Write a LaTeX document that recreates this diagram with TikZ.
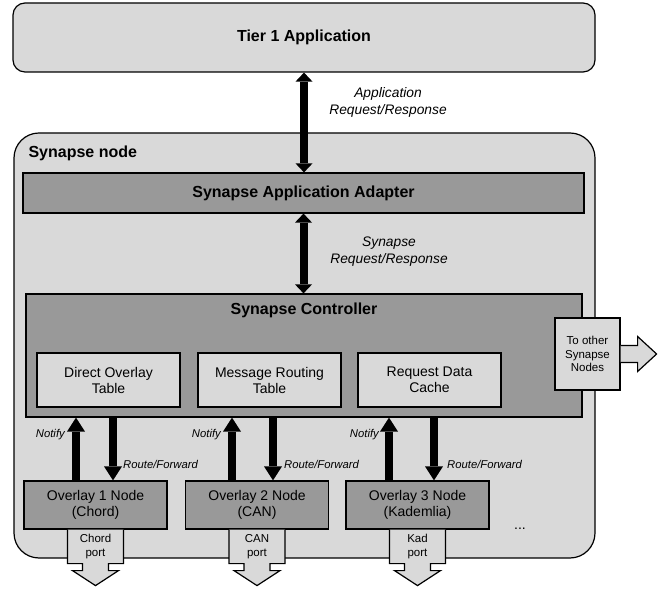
\documentclass[tikz,border=0pt]{standalone}
\usepackage{fontspec}
\setmainfont{Liberation Sans}
\usetikzlibrary{arrows.meta}
\definecolor{lightbox}{HTML}{D9D9D9}
\definecolor{darkbox}{HTML}{999999}

\begin{document}
\begin{tikzpicture}[x=1pt,y=1pt,
    panel/.style={draw, line width=1.2pt, fill=lightbox, align=center, inner sep=1pt},
    block/.style={draw, line width=1.2pt, fill=darkbox, align=center, inner sep=1pt},
    title/.style={font=\fontsize{16}{19}\selectfont\bfseries},
    boxtext/.style={font=\fontsize{14}{16}\selectfont, align=center},
    small/.style={font=\fontsize{11.5}{13.5}\selectfont, align=center, inner sep=1pt},
    note/.style={font=\fontsize{13.8}{17}\selectfont\itshape, align=center},
    tinynote/.style={font=\fontsize{11.3}{13}\selectfont\itshape, inner sep=1pt},
    portline/.style={line width=1.2pt, fill=lightbox},
    updown/.style={line width=8pt, {Triangle[width=17pt,length=9pt,line width=0pt]}-{Triangle[width=17pt,length=9pt,line width=0pt]}},
    flow/.style={line width=8pt, -{Triangle[width=18pt,length=14pt,line width=0pt]}}
]
    \useasboundingbox (0,0) rectangle (668,588);

    % Draw the outer Synapse node
    \node[panel, rounded corners=25pt, minimum width=581pt, minimum height=425pt] (synapse) at (304.5,242.5) {};
    \node[title, anchor=west] (synlabel) at (25,435) {Synapse node};

    % Draw the application on top
    \node[panel, title, rounded corners=12pt, minimum width=582pt, minimum height=69pt] (tier) at (304,550.5) {Tier 1 Application};

    % Adapter and controller
    \node[block, title, minimum width=561pt, minimum height=40pt] (adapter) at (303.5,395) {Synapse Application Adapter};
    \node[block, minimum width=556pt, minimum height=123pt] (ctrl) at (304,232.5) {};
    \node[title] (ctrltitle) at (304,278) {Synapse Controller};

    % Tables inside the controller
    \node[panel, boxtext, minimum width=143pt, minimum height=54pt] (dot) at (108.5,208) {Direct Overlay\\Table};
    \node[panel, boxtext, minimum width=143pt, minimum height=54pt] (mrt) at (269.5,208) {Message Routing\\Table};
    \node[panel, boxtext, minimum width=143pt, minimum height=54pt] (cache) at (429.5,208) {Request Data\\Cache};

    % Way out to the other nodes
    \node[panel, small, minimum width=65pt, minimum height=72pt] (other) at (587.5,234) {To other\\Synapse\\Nodes};
    \draw[portline] ([yshift=8.5pt]other.east) -- ++(17,0) -- ++(0,9) -- ++(19,-17.5) -- ++(-19,-17.5) -- ++(0,9) -- ++(-17,0);

    % Overlay nodes
    \node[block, boxtext, minimum width=143pt, minimum height=48pt] (ov1) at (95.5,83) {Overlay 1 Node\\(Chord)};
    \node[block, boxtext, minimum width=143pt, minimum height=48pt] (ov2) at (257,83) {Overlay 2 Node\\(CAN)};
    \node[block, boxtext, minimum width=143pt, minimum height=48pt] (ov3) at (417.5,83) {Overlay 3 Node\\(Kademlia)};
    \node[boxtext, anchor=base] (more) at (520,58) {...};

    % Ports below the overlay nodes
    \draw[portline] ([xshift=-28pt]ov1.south) -- ++(0,-34) -- ++(15,0) -- ++(0,-7) -- ++(-10,0) -- ++(23,-15) -- ++(23,15) -- ++(-10,0) -- ++(0,7) -- ++(15,0) -- ++(0,34);
    \draw[portline] ([xshift=-28pt]ov2.south) -- ++(0,-34) -- ++(15,0) -- ++(0,-7) -- ++(-10,0) -- ++(23,-15) -- ++(23,15) -- ++(-10,0) -- ++(0,7) -- ++(15,0) -- ++(0,34);
    \draw[portline] ([xshift=-28pt]ov3.south) -- ++(0,-34) -- ++(15,0) -- ++(0,-7) -- ++(-10,0) -- ++(23,-15) -- ++(23,15) -- ++(-10,0) -- ++(0,7) -- ++(15,0) -- ++(0,34);
    \node[small] (port1) at ([yshift=-17pt]ov1.south) {Chord\\port};
    \node[small] (port2) at ([yshift=-17pt]ov2.south) {CAN\\port};
    \node[small] (port3) at ([yshift=-17pt]ov3.south) {Kad\\port};

    % Request/response arrows
    \draw[updown] (tier.south) -- (tier.south |- adapter.north);
    \draw[updown] (adapter.south) -- (adapter.south |- ctrl.north);
    \node[note] (applbl) at (388,485.5) {Application\\Request/Response};
    \node[note] (synlbl) at (389,336) {Synapse\\Request/Response};

    % Notify and route arrows
    \coordinate (n1) at ([xshift=-19.5pt]ov1.north);
    \coordinate (r1) at ([xshift=17.5pt]ov1.north);
    \coordinate (n2) at ([xshift=-25pt]ov2.north);
    \coordinate (r2) at ([xshift=16pt]ov2.north);
    \coordinate (n3) at ([xshift=-28.5pt]ov3.north);
    \coordinate (r3) at ([xshift=16.5pt]ov3.north);
    \draw[flow] (n1) -- (n1 |- ctrl.south);
    \draw[flow] (r1 |- ctrl.south) -- (r1);
    \draw[flow] (n2) -- (n2 |- ctrl.south);
    \draw[flow] (r2 |- ctrl.south) -- (r2);
    \draw[flow] (n3) -- (n3 |- ctrl.south);
    \draw[flow] (r3 |- ctrl.south) -- (r3);

    % Labels for the arrows
    \node[tinynote, anchor=east] (notify1) at (66,153) {Notify};
    \node[tinynote, anchor=east] (notify2) at (222,153) {Notify};
    \node[tinynote, anchor=east] (notify3) at (380,153) {Notify};
    \node[tinynote, anchor=west] (route1) at (122,124) {Route/Forward};
    \node[tinynote, anchor=west] (route2) at (283,124) {Route/Forward};
    \node[tinynote, anchor=west] (route3) at (446,124) {Route/Forward};
\end{tikzpicture}
\end{document}
